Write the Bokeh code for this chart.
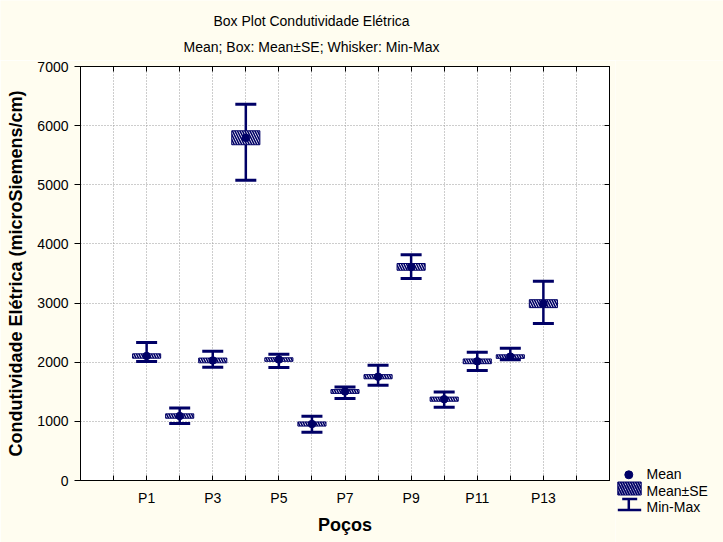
from bokeh.plotting import figure
from bokeh.models import (ColumnDataSource, Whisker, TeeHead, FixedTicker,
                          LinearAxis, Range1d)
from bokeh.layouts import row, column
from bokeh.core.properties import value
from bokeh.embed import file_html
from bokeh.resources import INLINE

# ---------------- data ----------------
categories = ["P1", "P2", "P3", "P4", "P5", "P6", "P7", "P8", "P9", "P10", "P11", "P12", "P13"]
means = [2105, 1090, 2030, 5795, 2045, 955, 1505, 1755, 3612, 1375, 2015, 2095, 2990]
se    = [37, 37, 40, 118, 30, 35, 32, 35, 57, 35, 40, 30, 67]
mins  = [2010, 965, 1915, 5075, 1910, 815, 1385, 1610, 3415, 1240, 1860, 2040, 2655]
maxs  = [2335, 1225, 2185, 6360, 2135, 1085, 1580, 1950, 3815, 1495, 2170, 2235, 3370]
y_ticks = [0, 1000, 2000, 3000, 4000, 5000, 6000, 7000]
x_tick_labels = ["P1", "P3", "P5", "P7", "P9", "P11", "P13"]

title_text = "Box Plot Condutividade Elétrica"
subtitle_text = "Mean; Box: Mean±SE; Whisker: Min-Max"
y_label = "Condutividade Elétrica (microSiemens/cm)"
x_label = "Poços"
legend_labels = ["Mean", "Mean±SE", "Min-Max"]

NAVY = "#000066"
CREAM = "#fffdf0"
FONT = "Liberation Sans"

xpos = list(range(1, len(categories) + 1))
src = ColumnDataSource(dict(
    x=xpos, cat=categories, mean=means,
    lo=[m - s for m, s in zip(means, se)],
    hi=[m + s for m, s in zip(means, se)],
    mn=mins, mx=maxs,
))

TOP_H = 60

# ---------------- title strip ----------------
tf = figure(width=723, height=TOP_H, x_range=Range1d(0, 723), y_range=Range1d(TOP_H, 0),
            toolbar_location=None, output_backend="svg", min_border=0,
            x_axis_type=None, y_axis_type=None)
tf.frame_align = False
tf.grid.visible = False
tf.outline_line_color = None
tf.background_fill_color = CREAM
tf.border_fill_color = CREAM
tf.text(x=[311, 311], y=[20, 46], text=[title_text, subtitle_text],
        text_align="center", text_baseline="alphabetic",
        text_font=value(FONT), text_font_size="14px", text_color="black")

# ---------------- main figure ----------------
p = figure(width=615, height=542 - TOP_H, x_range=Range1d(-1, 15), y_range=Range1d(0, 7000),
           toolbar_location=None, output_backend="svg",
           min_border_left=80, min_border_right=6, min_border_top=66 - TOP_H,
           min_border_bottom=62)
p.background_fill_color = "white"
p.border_fill_color = CREAM
p.outline_line_color = "black"
p.outline_line_width = 1

overrides = {i: "" for i in range(0, 15)}
for c, xv in zip(categories, xpos):
    if c in x_tick_labels:
        overrides[xv] = c

p.xaxis.ticker = FixedTicker(ticks=list(range(0, 15)))
p.xaxis.major_label_overrides = overrides
p.xaxis.major_tick_in = 5
p.xaxis.major_tick_out = 0
p.xaxis.minor_tick_line_color = None
p.xaxis.major_label_standoff = 9
p.xaxis.major_label_text_font = FONT
p.xaxis.major_label_text_font_size = "14px"
p.xaxis.major_label_text_color = "black"
p.xaxis.axis_line_color = "black"
p.xaxis.major_tick_line_color = "black"
p.xaxis.axis_label = x_label
p.xaxis.axis_label_text_font = FONT
p.xaxis.axis_label_text_font_size = "18px"
p.xaxis.axis_label_text_font_style = "bold"
p.xaxis.axis_label_text_color = "black"
p.xaxis.axis_label_standoff = 6

p.yaxis.ticker = FixedTicker(ticks=y_ticks)
p.yaxis.major_tick_in = 0
p.yaxis.major_tick_out = 6
p.yaxis.minor_tick_line_color = None
p.yaxis.major_label_standoff = 6
p.yaxis.major_label_text_font = FONT
p.yaxis.major_label_text_font_size = "14px"
p.yaxis.major_label_text_color = "black"
p.yaxis.axis_line_color = "black"
p.yaxis.major_tick_line_color = "black"
p.yaxis.axis_label = y_label
p.yaxis.axis_label_text_font = FONT
p.yaxis.axis_label_text_font_size = "18px"
p.yaxis.axis_label_text_font_style = "bold"
p.yaxis.axis_label_text_color = "black"
p.yaxis.axis_label_standoff = 8

# top and right axes: inner ticks only
top_ax = LinearAxis(ticker=FixedTicker(ticks=list(range(0, 15))), major_tick_in=5, major_tick_out=0,
                    minor_tick_line_color=None, major_label_text_font_size="0px",
                    major_label_standoff=0, major_label_overrides={i: "" for i in range(0, 15)},
                    axis_line_color="black", major_tick_line_color="black")
right_ax = LinearAxis(ticker=FixedTicker(ticks=y_ticks), major_tick_in=5, major_tick_out=0,
                      minor_tick_line_color=None, major_label_text_font_size="0px",
                      major_label_standoff=0, major_label_overrides={t: "" for t in y_ticks},
                      axis_line_color="black", major_tick_line_color="black")
p.add_layout(top_ax, "above")
p.add_layout(right_ax, "right")

p.grid.grid_line_color = "#9a9a9a"
p.grid.grid_line_dash = "1 2"
p.grid.grid_line_width = 1

# whiskers (min-max)
wh = Whisker(source=src, base="x", upper="mx", lower="mn", dimension="height",
             line_color=NAVY, line_width=2.5, level="underlay",
             upper_head=TeeHead(size=21, line_color=NAVY, line_width=3),
             lower_head=TeeHead(size=21, line_color=NAVY, line_width=3))
p.add_layout(wh)

# boxes (mean +- SE)
p.vbar(x="x", width=0.85, top="hi", bottom="lo", source=src,
       fill_color="white", line_color=NAVY, line_width=1,
       hatch_pattern="left_diagonal_line", hatch_color=NAVY,
       hatch_scale=5, hatch_weight=1.6)

# means
p.scatter(x="x", y="mean", source=src, size=7.5, marker="circle",
          fill_color=NAVY, line_color=NAVY)

# ---------------- legend panel ----------------
LH = 542 - TOP_H
lg = figure(width=108, height=LH, x_range=Range1d(0, 108), y_range=Range1d(LH, 0),
            toolbar_location=None, output_backend="svg", min_border=0,
            x_axis_type=None, y_axis_type=None)
lg.frame_align = False
lg.grid.visible = False
lg.outline_line_color = None
lg.background_fill_color = CREAM
lg.border_fill_color = CREAM

oy = TOP_H  # legend panel starts below the title strip
lg.scatter(x=[13.3], y=[474.3 - oy], size=8, marker="circle", fill_color=NAVY, line_color=NAVY)
lg.quad(left=[2.3], right=[25.7], top=[481.5 - oy], bottom=[494.5 - oy],
        fill_color="white", line_color=NAVY, line_width=1,
        hatch_pattern="left_diagonal_line", hatch_color=NAVY, hatch_scale=5, hatch_weight=1.8)
lg.segment(x0=[6.7, 2.3, 13.3], y0=[498.5 - oy, 509.5 - oy, 498.5 - oy],
           x1=[21.7, 25.7, 13.3], y1=[498.5 - oy, 509.5 - oy, 509.5 - oy],
           line_color=NAVY, line_width=2.5)
lg.text(x=[31, 31, 31], y=[473.5 - oy, 490.5 - oy, 506.5 - oy], text=legend_labels,
        text_baseline="alphabetic", text_align="left",
        text_font=value(FONT), text_font_size="14px", text_color="black")

layout = column(tf, row(p, lg, spacing=0), spacing=0)

html = file_html(layout, INLINE, title="Box Plot Condutividade Elétrica")
html = html.replace("<body>", '<body style="background-color:%s;">' % CREAM, 1)
open("out.html", "w").write(html)
